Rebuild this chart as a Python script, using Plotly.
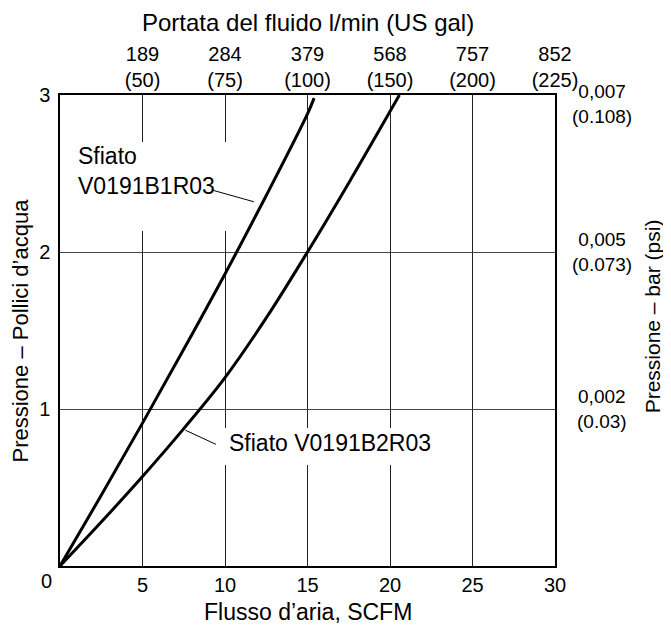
import plotly.graph_objects as go

# ---- data ----
flow_scfm_ticks = [5, 10, 15, 20, 25, 30]
flow_lmin_labels = ["189", "284", "379", "568", "757", "852"]
flow_gal_labels = ["(50)", "(75)", "(100)", "(150)", "(200)", "(225)"]
press_ticks = [1, 2, 3]
press_bar_labels = ["0,002", "0,005", "0,007"]
press_psi_labels = ["(0.03)", "(0.073)", "(0.108)"]

b1_name = "Sfiato<br>V0191B1R03"
b1_x = [0, 2.5, 5, 7.5, 10, 12.5, 15, 15.4]
b1_y = [0, 0.45, 0.91, 1.38, 1.86, 2.36, 2.88, 2.98]

b2_name = "Sfiato V0191B2R03"
b2_x = [0, 2.5, 5, 7.5, 10, 12.5, 15, 17.5, 20.57]
b2_y = [0, 0.28, 0.57, 0.875, 1.2, 1.58, 2.0, 2.44, 3.0]

FONT = "Liberation Sans, Arial, sans-serif"
fig = go.Figure()

for xs, ys in ((b1_x, b1_y), (b2_x, b2_y)):
    fig.add_trace(go.Scatter(x=xs, y=ys, mode="lines",
                             line=dict(color="black", width=3, shape="spline", smoothing=1.0),
                             showlegend=False, hoverinfo="skip"))
# invisible trace on top axis
fig.add_trace(go.Scatter(x=[0, 30], y=[0, 0], xaxis="x2", mode="lines",
                         line=dict(width=0), showlegend=False, hoverinfo="skip"))

fig.update_layout(
    width=663, height=619,
    margin=dict(l=52, r=116, t=87, b=61),
    paper_bgcolor="white", plot_bgcolor="white",
    font=dict(family=FONT, size=20, color="black"),
    xaxis=dict(range=[0, 30], tickvals=flow_scfm_ticks,
               ticktext=[str(v) for v in flow_scfm_ticks],
               showgrid=True, gridcolor="#222", gridwidth=1,
               showline=True, linecolor="black", linewidth=1.5, mirror=True,
               ticks="", zeroline=False, fixedrange=True, ticklabelstandoff=0),
    xaxis2=dict(range=[0, 30], overlaying="x", side="top", tickvals=flow_scfm_ticks,
                ticktext=[f"{a}<br>{b}" for a, b in zip(flow_lmin_labels, flow_gal_labels)],
                showgrid=False, showline=False, ticks="", zeroline=False, fixedrange=True,
                ticklabelstandoff=3),
    yaxis=dict(range=[0, 3], tickvals=press_ticks,
               ticktext=[str(v) for v in press_ticks],
               showgrid=True, gridcolor="#444", gridwidth=1,
               showline=True, linecolor="black", linewidth=1.5, mirror=True,
               ticks="", zeroline=False, fixedrange=True, ticklabelstandoff=4),
)

# white boxes hiding gridlines behind labels
fig.add_shape(type="rect", x0=3.5, x1=10.3, y0=2.134, y1=2.70, layer="between",
              fillcolor="white", line=dict(width=0))
fig.add_shape(type="rect", x0=9.4, x1=22.5, y0=0.643, y1=0.879, layer="between",
              fillcolor="white", line=dict(width=0))

# leader lines
fig.add_shape(type="line", x0=9.2, y0=2.395, x1=11.75, y1=2.32, line=dict(color="black", width=1))
fig.add_shape(type="line", x0=7.6, y0=0.865, x1=9.45, y1=0.775, line=dict(color="black", width=1))

ann = []
ann.append(dict(x=0.95, y=2.516, xref="x", yref="y", text=b1_name, showarrow=False,
                xanchor="left", yanchor="middle", align="left", font=dict(size=23)))
ann.append(dict(x=10.12, y=0.783, xref="x", yref="y", text=b2_name, showarrow=False,
                xanchor="left", yanchor="middle", align="left", font=dict(size=23)))
for v, b, p in zip(press_ticks, press_bar_labels, press_psi_labels):
    ann.append(dict(x=1.0, y=v, xref="paper", yref="y", text=f"{b}<br>{p}", showarrow=False,
                    xanchor="center", yanchor="middle", align="center", xshift=47,
                    yshift=-9 if v == 3 else 0, font=dict(size=19)))
ann.append(dict(x=0, y=0, xref="paper", yref="paper", text="0", showarrow=False,
                xanchor="center", yanchor="middle", xshift=-14, yshift=-15, font=dict(size=20)))
ann.append(dict(x=0.5, y=1, xref="paper", yref="paper", text="Portata del fluido l/min (US gal)",
                showarrow=False, xanchor="center", yanchor="middle", yshift=73, font=dict(size=24)))
ann.append(dict(x=0.5, y=0, xref="paper", yref="paper", text="Flusso d’aria, SCFM",
                showarrow=False, xanchor="center", yanchor="middle", yshift=-46, font=dict(size=23)))
ann.append(dict(x=0, y=0.5, xref="paper", yref="paper", text="Pressione – Pollici d’acqua",
                showarrow=False, xanchor="center", yanchor="middle", xshift=-40, textangle=-90,
                font=dict(size=22)))
ann.append(dict(x=1, y=0.53, xref="paper", yref="paper", text="Pressione – bar (psi)",
                showarrow=False, xanchor="center", yanchor="middle", xshift=97, textangle=-90,
                font=dict(size=21)))
fig.update_layout(annotations=ann)

fig.write_html("out.html")
